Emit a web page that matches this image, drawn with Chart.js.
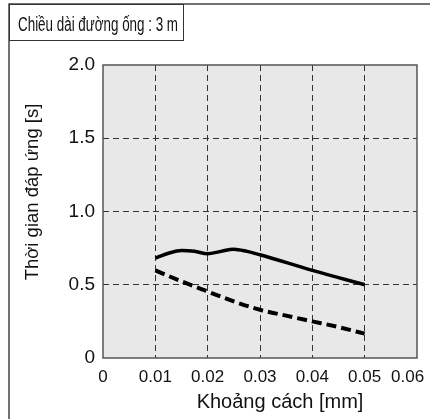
<!DOCTYPE html>
<html>
<head>
<meta charset="utf-8">
<script src="https://cdn.jsdelivr.net/npm/chart.js@4"></script>
<style>
  html, body { margin: 0; padding: 0; background: #fff; }
  #wrap { width: 430px; height: 419px; position: relative; }
</style>
</head>
<body>
<div id="wrap"><canvas id="lineChart" width="430" height="419"></canvas></div>
<script>
// chart data
var boxTitle = 'Chiều dài đường ống : 3 m';
var xTitle = 'Khoảng cách [mm]';
var yTitle = 'Thời gian đáp ứng [s]';

var xTicks = [0, 0.01, 0.02, 0.03, 0.04, 0.05, 0.06];
var yTicks = [0, 0.5, 1.0, 1.5, 2.0];

// solid line
var solidX = [0.01, 0.0125, 0.015, 0.0175, 0.02, 0.0225, 0.025, 0.0275, 0.03, 0.04, 0.05];
var solidY = [0.682, 0.715, 0.734, 0.728, 0.711, 0.728, 0.743, 0.728, 0.705, 0.598, 0.500];

// dashed line
var dashX = [0.01, 0.015, 0.02, 0.025, 0.03, 0.035, 0.04, 0.045, 0.05];
var dashY = [0.598, 0.523, 0.454, 0.386, 0.329, 0.289, 0.250, 0.211, 0.166];

function toPoints(xs, ys) {
    return xs.map(function (x, i) { return { x: x, y: ys[i] }; });
}

var ctx = document.getElementById('lineChart').getContext('2d');

// background, plot frame, title box and axis titles
var decor = {
    id: 'decor',
    beforeDraw: function (chart) {
        var c = chart.ctx, a = chart.chartArea;
        c.save();
        c.fillStyle = '#ffffff';
        c.fillRect(0, 0, chart.width, chart.height);
        c.fillStyle = '#e8e8e8';
        c.fillRect(a.left, a.top, a.right - a.left, a.bottom - a.top);
        c.restore();
    },
    beforeDatasetsDraw: function (chart) {
        var c = chart.ctx, a = chart.chartArea;
        c.save();
        c.strokeStyle = '#555';
        c.lineWidth = 1.5;
        c.strokeRect(a.left, a.top, a.right - a.left, a.bottom - a.top);
        c.restore();
    },
    afterDraw: function (chart) {
        var c = chart.ctx;
        c.save();
        // outer frame (top and left only)
        c.strokeStyle = '#444';
        c.lineWidth = 1.5;
        c.beginPath();
        c.moveTo(9, 419);
        c.lineTo(9, 4);
        c.lineTo(430, 4);
        c.stroke();
        // title box
        c.lineWidth = 1;
        c.strokeStyle = '#333';
        c.strokeRect(9.5, 4.5, 174, 36);
        c.fillStyle = '#111';
        c.font = '20px "Liberation Sans", Arial, sans-serif';
        c.textBaseline = 'alphabetic';
        c.textAlign = 'left';
        var w = c.measureText(boxTitle).width;
        var k = 160 / w;
        c.translate(18, 31);
        c.scale(k, 1);
        c.fillText(boxTitle, 0, 0);
        c.restore();

        c.save();
        c.fillStyle = '#111';
        c.font = '20px "Liberation Sans", Arial, sans-serif';
        c.textAlign = 'center';
        c.textBaseline = 'middle';
        c.fillText(xTitle, 280, 402);
        c.font = '18.5px "Liberation Sans", Arial, sans-serif';
        c.translate(33, 192);
        c.rotate(-Math.PI / 2);
        c.fillText(yTitle, 0, 0);
        c.restore();
    }
};

var lineChart = new Chart(ctx, {
    type: 'line',
    data: {
        datasets: [
            {
                label: 'solid',
                data: toPoints(solidX, solidY),
                borderColor: '#000',
                borderWidth: 3.5,
                pointRadius: 0,
                cubicInterpolationMode: 'monotone',
                fill: false
            },
            {
                label: 'dashed',
                data: toPoints(dashX, dashY),
                borderColor: '#000',
                borderWidth: 4,
                borderDash: [10, 5],
                pointRadius: 0,
                cubicInterpolationMode: 'monotone',
                fill: false
            }
        ]
    },
    options: {
        responsive: false,
        animation: false,
        devicePixelRatio: 1,
        layout: { padding: { top: 65, right: 13, left: 0, bottom: 0 } },
        plugins: {
            legend: { display: false },
            tooltip: { enabled: false }
        },
        scales: {
            x: {
                type: 'linear',
                min: xTicks[0],
                max: xTicks[xTicks.length - 1],
                afterBuildTicks: function (s) {
                    s.ticks = xTicks.map(function (v) { return { value: v }; });
                },
                afterFit: function (s) {
                    s.height = 61;
                    s.paddingLeft = 0;
                    s.paddingRight = 0;
                },
                grid: {
                    drawTicks: false,
                    lineWidth: 1,
                    color: function (c) {
                        return (c.index === 0 || c.index === xTicks.length - 1) ? 'rgba(0,0,0,0)' : '#333';
                    }
                },
                border: { display: false, dash: [6, 4] },
                ticks: {
                    padding: 9,
                    color: '#111',
                    font: { family: '"Liberation Sans", Arial, sans-serif', size: 17 },
                    maxRotation: 0,
                    autoSkip: false,
                    callback: function (v, i) {
                        if (v === 0) return '0';
                        var t = v.toFixed(2);
                        return i === xTicks.length - 1 ? t + '    ' : t;
                    }
                }
            },
            y: {
                min: yTicks[0],
                max: yTicks[yTicks.length - 1],
                afterBuildTicks: function (s) {
                    s.ticks = yTicks.map(function (v) { return { value: v }; });
                },
                afterFit: function (s) {
                    s.width = 103;
                    s.paddingTop = 0;
                    s.paddingBottom = 0;
                },
                grid: {
                    drawTicks: false,
                    lineWidth: 1,
                    color: function (c) {
                        return (c.index === 0 || c.index === yTicks.length - 1) ? 'rgba(0,0,0,0)' : '#333';
                    }
                },
                border: { display: false, dash: [6, 4] },
                ticks: {
                    padding: 8,
                    color: '#111',
                    font: { family: '"Liberation Sans", Arial, sans-serif', size: 19 },
                    callback: function (v) {
                        return v === 0 ? '0' : v.toFixed(1);
                    }
                }
            }
        }
    },
    plugins: [decor]
});
</script>
</body>
</html>
